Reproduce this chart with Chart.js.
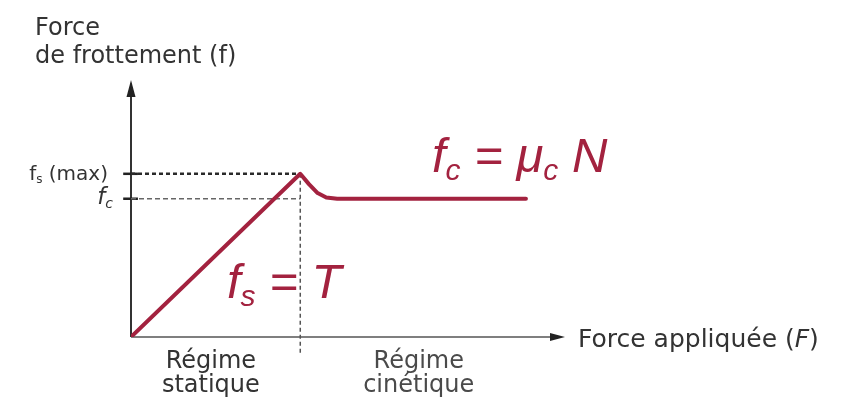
<!DOCTYPE html>
<html lang="fr">
<head>
<meta charset="utf-8">
<title>Force de frottement</title>
<script src="https://cdn.jsdelivr.net/npm/chart.js@4.4.1/dist/chart.umd.min.js"></script>
<style>
  html, body { margin: 0; padding: 0; background: #fff; }
  #wrap { width: 854px; height: 405px; position: relative; }
</style>
</head>
<body>
<div id="wrap"><canvas id="chart" width="854" height="405"></canvas></div>
<script>
// Grandeurs (unités arbitraires)
const FS_MAX = 6.35;     // frottement statique maximal
const FC = 5.38;         // frottement cinétique
const PEAK_X = 3.9;      // force appliquée au décrochage

// Courbe f(F)
const forceApplied = [0, 3.9, 4.1, 4.3, 4.5, 4.75, 9.1];
const friction     = [0, 6.35, 5.95, 5.6, 5.43, 5.38, 5.38];

// Étendue des axes fléchés
const X_AXIS_END = 10;
const Y_AXIS_END = 10;

const RED = '#a3223f';
const INK = '#333';
const LABEL_FONT = '"DejaVu Sans", sans-serif';
const MATH_FONT = '"Liberation Sans", Arial, sans-serif';

function pts(xs, ys) {
    return xs.map((x, i) => ({ x: x, y: ys[i] }));
}

// Texte avec indices : parts = [{t, sub}]
function drawRich(ctx, parts, x, y, size, font, style, color) {
    ctx.save();
    ctx.fillStyle = color;
    ctx.textBaseline = 'alphabetic';
    ctx.textAlign = 'left';
    let cx = x;
    parts.forEach(p => {
        const s = p.sub ? Math.round(size * 0.62) : size;
        ctx.font = `${style} ${s}px ${font}`;
        ctx.fillText(p.t, cx, p.sub ? y + size * 0.17 : y);
        cx += ctx.measureText(p.t).width;
    });
    ctx.restore();
    return cx - x;
}

function measureRich(ctx, parts, size, font, style) {
    let w = 0;
    parts.forEach(p => {
        const s = p.sub ? Math.round(size * 0.62) : size;
        ctx.font = `${style} ${s}px ${font}`;
        w += ctx.measureText(p.t).width;
    });
    return w;
}

const decorations = {
    id: 'decorations',
    beforeDatasetsDraw(chart) {
        const { ctx, scales: { x, y } } = chart;
        const x0 = x.getPixelForValue(0);
        const y0 = y.getPixelForValue(0);
        const xEnd = x.getPixelForValue(X_AXIS_END);
        const yEnd = y.getPixelForValue(Y_AXIS_END);

        ctx.save();
        // axes
        ctx.strokeStyle = '#555';
        ctx.lineWidth = 1.5;
        ctx.beginPath();
        ctx.moveTo(x0, y0);
        ctx.lineTo(xEnd - 6, y0);
        ctx.stroke();
        ctx.strokeStyle = '#333';
        ctx.lineWidth = 2;
        ctx.beginPath();
        ctx.moveTo(x0, y0);
        ctx.lineTo(x0, yEnd + 8);
        ctx.stroke();

        // pointes de flèches
        ctx.fillStyle = '#222';
        ctx.beginPath();
        ctx.moveTo(xEnd, y0);
        ctx.lineTo(xEnd - 15, y0 - 4);
        ctx.lineTo(xEnd - 15, y0 + 4);
        ctx.closePath();
        ctx.fill();
        ctx.beginPath();
        ctx.moveTo(x0, yEnd);
        ctx.lineTo(x0 - 4.5, yEnd + 17);
        ctx.lineTo(x0 + 4.5, yEnd + 17);
        ctx.closePath();
        ctx.fill();
        ctx.restore();
    },
    afterDraw(chart) {
        const { ctx, scales: { x, y } } = chart;
        const x0 = x.getPixelForValue(0);
        const y0 = y.getPixelForValue(0);
        const yFs = y.getPixelForValue(FS_MAX);
        const yFc = y.getPixelForValue(FC);

        ctx.save();
        ctx.fillStyle = INK;
        ctx.textBaseline = 'alphabetic';

        // titre de l'axe vertical
        ctx.textAlign = 'left';
        ctx.font = `24px ${LABEL_FONT}`;
        ctx.fillText('Force', 35, 35);
        ctx.fillText('de frottement (f)', 35, 63);

        // titre de l'axe horizontal
        const parts = [{ t: 'Force appliquée (' }, { t: 'F', it: true }, { t: ')' }];
        let cx = 578;
        parts.forEach(p => {
            ctx.font = `${p.it ? 'italic ' : ''}25px ${LABEL_FONT}`;
            ctx.fillText(p.t, cx, y0 + 10);
            cx += ctx.measureText(p.t).width;
        });

        // régimes
        ctx.textAlign = 'center';
        ctx.font = `24px ${LABEL_FONT}`;
        const xs = x.getPixelForValue(1.84);
        const xk = x.getPixelForValue(6.63);
        ctx.fillText('Régime', xs, y0 + 31);
        ctx.fillText('statique', xs, y0 + 55);
        ctx.fillStyle = '#4a4a4a';
        ctx.fillText('Régime', xk, y0 + 31);
        ctx.fillText('cinétique', xk, y0 + 55);
        ctx.restore();

        // étiquettes des niveaux
        const lblFs = [{ t: 'f' }, { t: 's', sub: true }, { t: ' (max)' }];
        const wFs = measureRich(ctx, lblFs, 20, LABEL_FONT, 'normal');
        drawRich(ctx, lblFs, x0 - 23 - wFs, yFs + 6, 20, LABEL_FONT, 'normal', INK);
        const lblFc = [{ t: 'f' }, { t: 'c', sub: true }];
        const wFc = measureRich(ctx, lblFc, 23, LABEL_FONT, 'italic');
        drawRich(ctx, lblFc, x0 - 18 - wFc, yFc + 5, 23, LABEL_FONT, 'italic', INK);

        // relations
        drawRich(ctx, [{ t: 'f' }, { t: 'c', sub: true }, { t: ' = ' }, { t: 'μ' }, { t: 'c', sub: true }, { t: ' N' }],
            432, 172, 49, MATH_FONT, 'italic', RED);
        drawRich(ctx, [{ t: 'f' }, { t: 's', sub: true }, { t: ' = ' }, { t: 'T' }],
            227, 298, 49, MATH_FONT, 'italic', RED);
    }
};

new Chart(document.getElementById('chart'), {
    type: 'line',
    data: {
        datasets: [
            {
                data: pts(forceApplied, friction),
                borderColor: RED,
                borderWidth: 4,
                borderJoinStyle: 'round',
                borderCapStyle: 'round',
                pointRadius: 0,
                tension: 0,
                order: 0
            },
            {
                data: pts([0, PEAK_X], [FS_MAX, FS_MAX]),
                borderColor: '#2a2a2a',
                borderWidth: 2.5,
                borderDash: [4, 3],
                pointRadius: 0,
                order: 1
            },
            {
                data: pts([0, PEAK_X], [FC, FC]),
                borderColor: '#666',
                borderWidth: 1.5,
                borderDash: [5, 3],
                pointRadius: 0,
                order: 1
            },
            {
                data: pts([PEAK_X, PEAK_X], [FS_MAX, -0.7]),
                borderColor: '#555',
                borderWidth: 1.5,
                borderDash: [4, 3],
                pointRadius: 0,
                clip: false,
                order: 1
            },
            {
                data: pts([-0.18, 0.16], [FS_MAX, FS_MAX]),
                borderColor: '#222',
                borderWidth: 2.5,
                pointRadius: 0,
                clip: false,
                order: 1
            },
            {
                data: pts([-0.18, 0.16], [FC, FC]),
                borderColor: '#222',
                borderWidth: 2.5,
                pointRadius: 0,
                clip: false,
                order: 1
            }
        ]
    },
    options: {
        responsive: false,
        animation: false,
        layout: { padding: { left: 131, right: 289, top: 80, bottom: 68 } },
        scales: {
            x: { type: 'linear', min: 0, max: X_AXIS_END, display: false },
            y: { type: 'linear', min: 0, max: Y_AXIS_END, display: false }
        },
        plugins: {
            legend: { display: false },
            tooltip: { enabled: false }
        }
    },
    plugins: [decorations]
});
</script>
</body>
</html>
